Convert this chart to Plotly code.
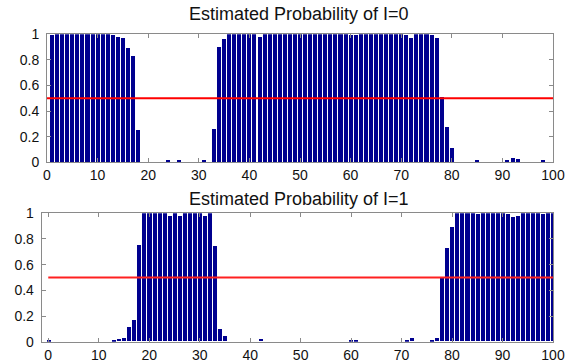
import plotly.graph_objects as go

# ---- data ----
x_top = list(range(1, 100))
p_i0 = [0.99, 1, 1, 1, 1, 1, 1, 1, 1, 1,   # 1-10
        1, 1, 0.99, 0.98, 0.97, 0.89, 0.83, 0.25, 0, 0,   # 11-20
        0, 0, 0, 0.01, 0, 0.01, 0, 0, 0, 0,   # 21-30
        0.01, 0, 0.26, 0.90, 0.96, 1, 1, 1, 1, 1,   # 31-40
        1, 0.98, 1, 1, 1, 1, 1, 1, 1, 1,   # 41-50
        1, 1, 1, 1, 1, 1, 1, 1, 1, 0.99,   # 51-60
        0.99, 1, 1, 1, 1, 1, 1, 1, 1, 1,   # 61-70
        0.99, 0.97, 1, 1, 1, 0.99, 0.97, 0.51, 0.27, 0.11,   # 71-80
        0, 0, 0, 0, 0.01, 0, 0, 0, 0, 0,   # 81-90
        0.01, 0.03, 0.02, 0, 0, 0, 0, 0.01, 0]   # 91-99

x_bot = list(range(0, 101))
p_i1 = [0.01,   # 0
        0, 0, 0, 0, 0, 0, 0, 0, 0, 0,   # 1-10
        0, 0, 0.005, 0.02, 0.03, 0.11, 0.17, 0.75, 1, 1,   # 11-20
        1, 1, 1, 0.98, 1, 0.98, 1, 1, 1, 1,   # 21-30
        0.98, 1, 0.74, 0.10, 0.04, 0, 0, 0, 0, 0,   # 31-40
        0, 0.02, 0, 0, 0, 0, 0, 0, 0, 0,   # 41-50
        0, 0, 0, 0, 0, 0, 0, 0, 0, 0.005,   # 51-60
        0.005, 0, 0, 0, 0, 0, 0, 0, 0, 0,   # 61-70
        0.01, 0.03, 0, 0, 0, 0.01, 0.03, 0.49, 0.73, 0.89,   # 71-80
        1, 1, 1, 1, 0.99, 1, 1, 1, 1, 1,   # 81-90
        0.99, 0.97, 0.98, 1, 1, 1, 1, 0.99, 1, 1]   # 91-100

line_x = [0, 100]
threshold = [0.5, 0.5]

x_ticks = [0, 10, 20, 30, 40, 50, 60, 70, 80, 90, 100]
y_ticks = [0, 0.2, 0.4, 0.6, 0.8, 1]
y_tick_text = ["0", "0.2", "0.4", "0.6", "0.8", "1"]

titles = ["Estimated Probability of I=0", "Estimated Probability of I=1"]

# ---- style ----
BAR = "#00008f"
AX = "#8a8a8a"
FONT = "Liberation Sans, Arial, sans-serif"
W, H = 581, 362

fig = go.Figure()
fig.add_trace(go.Bar(x=x_top, y=p_i0, width=0.8, marker=dict(color=BAR, line=dict(width=0)),
                     xaxis="x", yaxis="y", showlegend=False))
fig.add_trace(go.Scatter(x=line_x, y=threshold, mode="lines", line=dict(color="#ff0000", width=2),
                         xaxis="x", yaxis="y", showlegend=False))
fig.add_trace(go.Bar(x=x_bot, y=p_i1, width=0.8, marker=dict(color=BAR, line=dict(width=0)),
                     xaxis="x2", yaxis="y2", showlegend=False))
fig.add_trace(go.Scatter(x=line_x, y=threshold, mode="lines", line=dict(color="#ff2020", width=2),
                         xaxis="x2", yaxis="y2", showlegend=False))

def xax(domain, rng, anchor):
    return dict(domain=domain, range=rng, anchor=anchor, tickvals=x_ticks, automargin=False,
                ticks="inside", ticklen=4, tickcolor=AX, showline=True, linecolor=AX,
                linewidth=1, mirror="ticks", showgrid=False, zeroline=False,
                tickfont=dict(family=FONT, size=14, color="#111"), ticklabelstandoff=0)

def yax(domain, anchor):
    return dict(domain=domain, range=[0, 1], anchor=anchor, tickvals=y_ticks, ticktext=y_tick_text,
                automargin=False,
                ticks="inside", ticklen=4, tickcolor=AX, showline=True, linecolor=AX,
                linewidth=1, mirror="ticks", showgrid=False, zeroline=False,
                tickfont=dict(family=FONT, size=14, color="#111"), ticklabelstandoff=4)

fig.update_layout(
    width=W, height=H,
    margin=dict(l=0, r=0, t=0, b=0, pad=0),
    paper_bgcolor="white", plot_bgcolor="white",
    bargap=0,
    xaxis=xax([47 / W, 553 / W], [0, 100], "y"),
    yaxis=yax([1 - 162.3 / H, 1 - 34.3 / H], "x"),
    xaxis2=xax([41.7 / W, 553 / W], [-1.3, 100], "y2"),
    yaxis2=yax([1 - 341.7 / H, 1 - 213.3 / H], "x2"),
    annotations=[
        dict(text=titles[0], x=299 / W, y=1 - 14 / H, xref="paper", yref="paper",
             showarrow=False, xanchor="center", yanchor="middle",
             font=dict(family=FONT, size=18, color="#111")),
        dict(text=titles[1], x=299 / W, y=1 - 199 / H, xref="paper", yref="paper",
             showarrow=False, xanchor="center", yanchor="middle",
             font=dict(family=FONT, size=18, color="#111")),
    ],
)

fig.write_html(
    "out.html",
    config={"displayModeBar": False},
    post_script="document.body.style.margin='0';document.body.style.overflow='hidden';",
)
